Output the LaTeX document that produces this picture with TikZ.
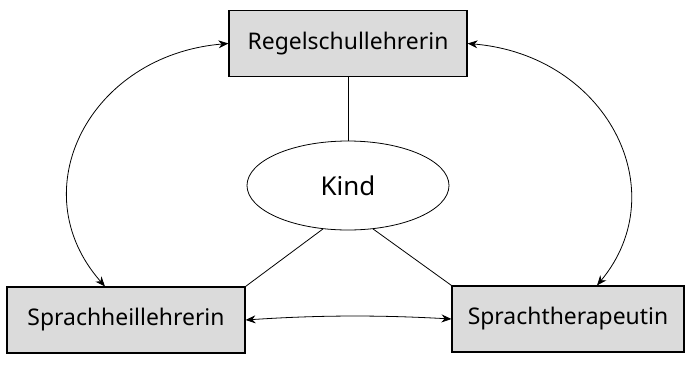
\documentclass[tikz,border=0pt]{standalone}
\usepackage{fontspec}
\setmainfont{Noto Sans}
\usetikzlibrary{arrows.meta,shapes.geometric}
\begin{document}
\begin{tikzpicture}[x=1bp,y=-1bp,
  rolebox/.style={draw=black,line width=1.1pt,fill=black!14,minimum height=66bp,inner sep=2bp,font=\fontsize{23}{26}\selectfont},
  kindnode/.style={ellipse,draw=black,line width=0.8pt,minimum width=202bp,minimum height=89bp,inner sep=0pt,font=\fontsize{26}{30}\selectfont},
  link/.style={line width=0.8pt},
  rel/.style={line width=0.8pt,{Stealth[length=10bp,width=8bp]}-{Stealth[length=10bp,width=8bp]}}]
\useasboundingbox (0,0) rectangle (685,364);
\node[rolebox,minimum width=238bp] (rs) at (348,43.5) {Regelschullehrerin};
\node[rolebox,minimum width=238bp] (sh) at (126,320) {Sprachheillehrerin};
\node[rolebox,minimum width=232bp] (st) at (568,319) {Sprachtherapeutin};
\node[kindnode] (k) at (348,185.5) {Kind};
% plain links to the child
\draw[link] (rs.south) -- (k.north);
\draw[link] (k.-120) -- (sh.north east);
\draw[link] (k.-60) -- (st.north west);
% mutual relations between the professionals
\draw[rel] (rs.west) .. controls (90,55) and (20,190) .. (sh.north -| 105,0);
\draw[rel] (rs.east) .. controls (606,55) and (676,190) .. (st.north -| 597,0);
\draw[rel] (sh.east) .. controls (320,315) and (380,315) .. (st.west);
\end{tikzpicture}
\end{document}
